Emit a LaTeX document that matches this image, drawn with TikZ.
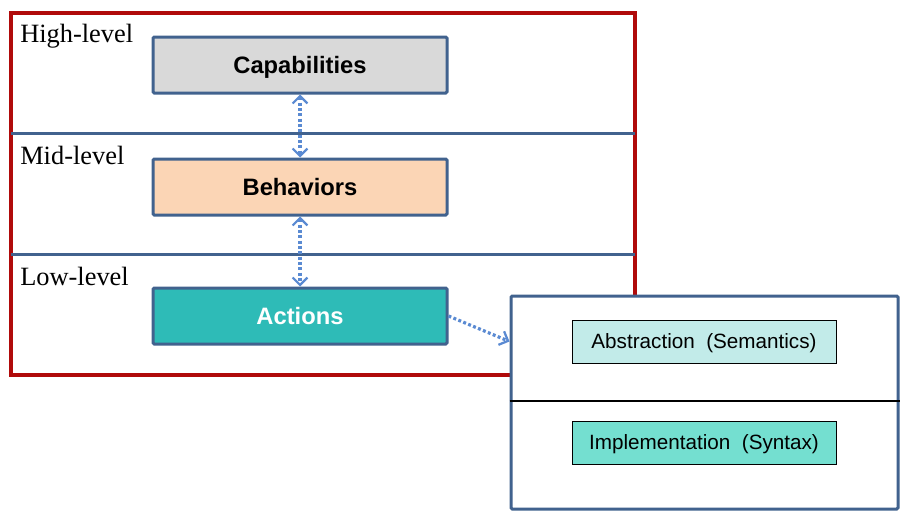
\documentclass[tikz,border=0pt]{standalone}
\usepackage{fontspec}
\setmainfont{Liberation Serif}
\setsansfont{Liberation Sans}
\usetikzlibrary{arrows.meta}
\definecolor{frameRed}{HTML}{B00A0A}
\definecolor{edgeBlue}{HTML}{41628E}
\definecolor{linkBlue}{HTML}{5A8AD2}
\definecolor{capGray}{HTML}{D9D9D9}
\definecolor{behPeach}{HTML}{FBD5B5}
\definecolor{actTeal}{HTML}{2EBBB7}
\definecolor{absCyan}{HTML}{C2EBE9}
\definecolor{impCyan}{HTML}{74DFD0}
\newcommand{\cFrame}{frameRed}
\newcommand{\cEdge}{edgeBlue}
\newcommand{\cLink}{linkBlue}
\tikzset{
  levelbox/.style={draw=\cEdge, line width=2.25pt, rounded corners=1pt, minimum width=220.5pt, minimum height=42pt, text height=12.7pt, text depth=0pt, font=\sffamily\bfseries\fontsize{17.8}{19}\selectfont},
  subbox/.style={draw=black, line width=0.6pt, minimum width=198pt, minimum height=32.25pt, text height=11.1pt, text depth=0pt, font=\sffamily\fontsize{15.5}{17}\selectfont},
  levellabel/.style={anchor=base west, inner sep=0pt, font=\fontsize{19.8}{21}\selectfont},
  link/.style={draw=\cLink, line width=2.4pt, dash pattern=on 2.2pt off 1.8pt, {Straight Barb[length=5.5pt,width=11pt,line width=1.7pt]}-{Straight Barb[length=5.5pt,width=11pt,line width=1.7pt]}},
  onelink/.style={draw=\cLink, line width=2.4pt, dash pattern=on 2.2pt off 1.8pt, -{Straight Barb[length=5.5pt,width=11pt,line width=1.7pt]}}
}
\begin{document}
\begin{tikzpicture}[x=0.75pt, y=-0.75pt]
    \useasboundingbox (0,0) rectangle (909,521);
    % --- --- --- Levels frame
    \draw[\cFrame, line width=2.6pt] (11,13) rectangle (635,375);
    \draw[\cEdge, line width=2.25pt] (11,133) -- (635,133);
    \draw[\cEdge, line width=2.25pt] (11,254) -- (635,254);
    % --- --- --- Level labels
    \node[levellabel] (high) at (20,42) {High-level};
    \node[levellabel] (mid) at (20,164) {Mid-level};
    \node[levellabel] (low) at (20,285) {Low-level};
    % --- --- --- Level boxes
    \node[levelbox, fill=capGray] (cap) at (300,65) {Capabilities};
    \node[levelbox, fill=behPeach] (beh) at (300,187) {Behaviors};
    \node[levelbox, fill=actTeal, text=white] (act) at (300,316) {Actions};
    % === === === Action detail
    \node[draw=\cEdge, fill=white, line width=2.25pt, rounded corners=1pt, minimum width=290.25pt, minimum height=159.75pt] (detail) at (704.5,402.5) {};
    \draw[black, line width=1.5pt] (detail.west |- 0,401) -- (detail.east |- 0,401);
    \node[subbox, fill=absCyan] (abs) at (704,341.5) {Abstraction\ \ (Semantics)};
    \node[subbox, fill=impCyan] (imp) at (704,442.5) {Implementation\ \ (Syntax)};
    % === === === Links
    \draw[link] (cap) -- (beh);
    \draw[link] (beh) -- (act);
    \draw[onelink] (act.east) -- (detail.west |- abs);
\end{tikzpicture}
\end{document}
